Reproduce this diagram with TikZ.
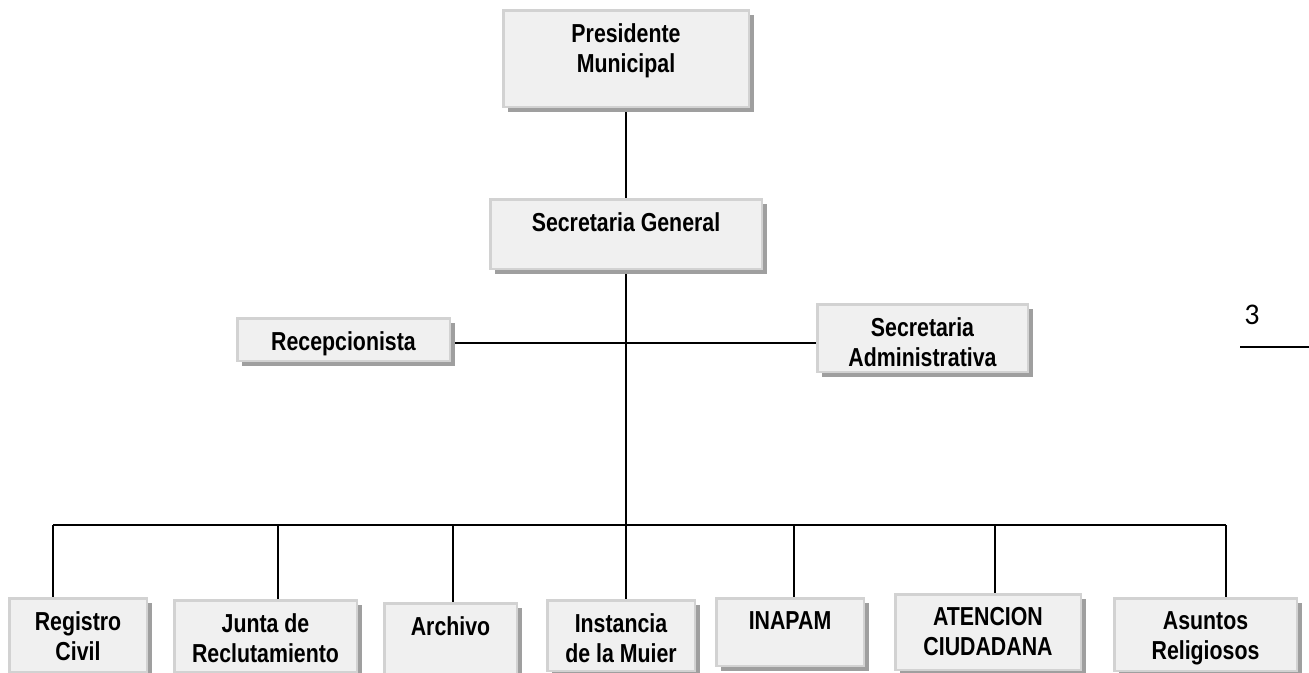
\documentclass[tikz,border=0pt]{standalone}
\usepackage{fontspec}
\setmainfont{Liberation Sans}[FakeStretch=0.82]
\newfontfamily\pagefont{Carlito}
\usetikzlibrary{positioning,shadows,backgrounds}

\begin{document}
\begin{tikzpicture}[
        x=1pt, y=-1pt,
        font=\fontsize{26}{30}\selectfont\bfseries,
        box/.style={rectangle, draw=gray!35, line width=2.5pt, fill=gray!12, inner sep=0pt, anchor=north west,
            drop shadow={shadow xshift=5pt, shadow yshift=-5pt, fill=gray!75, opacity=1}},
        txt/.style={anchor=north, align=center, inner sep=0pt, yshift=-14pt},
        link/.style={line width=1.6pt, black}
    ]
        \useasboundingbox (0,0) rectangle (1309,672);

        % top of the chart
        \node[box, minimum width=245.5pt, minimum height=96.5pt,
            label={[txt]north:Presidente\\Municipal}] (pres) at (502,9) {};
        \node[box, below=90pt of pres, minimum width=271.5pt, minimum height=69.5pt,
            label={[txt]north:Secretaria General}] (secgen) {};
        \node[box, minimum width=212.5pt, minimum height=42.5pt,
            label={[txt]north:Recepcionista}] (recep) at (236,317) {};
        \node[box, minimum width=210.5pt, minimum height=67.5pt,
            label={[txt]north:Secretaria\\Administrativa}] (secadm) at (816,303) {};

        % bottom row
        \node[box, minimum width=137.5pt, minimum height=73.5pt,
            label={[txt]north:Registro\\Civil}] (registro) at (8,597) {};
        \node[box, minimum width=182.5pt, minimum height=71.5pt,
            label={[txt]north:Junta de\\Reclutamiento}] (junta) at (173,599) {};
        \node[box, minimum width=132.5pt, minimum height=72.5pt,
            label={[txt]north:Archivo}] (archivo) at (383,602) {};
        \node[box, minimum width=147.5pt, minimum height=70.5pt,
            label={[txt]north:Instancia\\de la Muier}] (instancia) at (546,599) {};
        \node[box, minimum width=147.5pt, minimum height=67.5pt,
            label={[txt]north:INAPAM}] (inapam) at (715,597) {};
        \node[box, minimum width=185.5pt, minimum height=75.5pt,
            label={[txt]north:ATENCION\\CIUDADANA}] (atencion) at (894,593) {};
        \node[box, minimum width=182.5pt, minimum height=72.5pt,
            label={[txt]north:Asuntos\\Religiosos}] (asuntos) at (1113,597) {};

        \node[font=\fontsize{30}{34}\selectfont\mdseries\pagefont] (pagenum) at (1252,315) {3};
        \coordinate (footrule) at (1240,347);
        \draw[link] (footrule) -- ++(69,0);

        % points on the lines
        \coordinate (midrow) at (625,343);
        \coordinate (busL) at (53,525);
        \coordinate (busR) at (1226,525);
        \coordinate (dJun) at (278,525);
        \coordinate (dArc) at (453,525);
        \coordinate (dIna) at (794,525);
        \coordinate (dAte) at (995,525);

        \begin{scope}[on background layer]
            \draw[link] (pres) -- (secgen);
            \draw[link] (secgen.south) -- (secgen.south |- instancia.north);
            \draw[link] (recep.east |- midrow) -- (secadm.west |- midrow);
            \draw[link] (busL) -- (busR);
            \draw[link] (busL) -- (busL |- registro.north);
            \draw[link] (dJun) -- (dJun |- junta.north);
            \draw[link] (dArc) -- (dArc |- archivo.north);
            \draw[link] (dIna) -- (dIna |- inapam.north);
            \draw[link] (dAte) -- (dAte |- atencion.north);
            \draw[link] (busR) -- (busR |- asuntos.north);
        \end{scope}
    \end{tikzpicture}
\end{document}
